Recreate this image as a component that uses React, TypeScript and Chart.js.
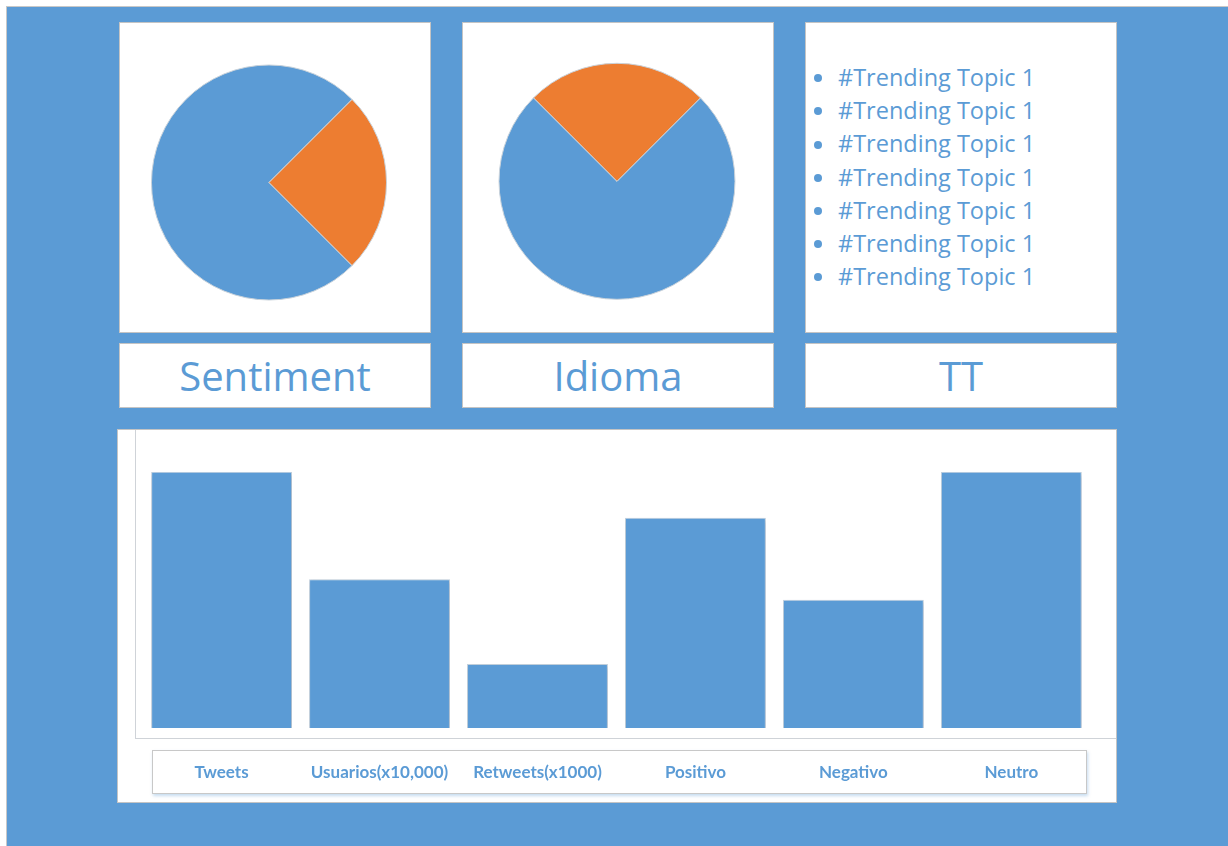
import React, { useEffect, useRef } from "react";
import { Chart, registerables } from "chart.js";

Chart.register(...registerables);

const BLUE = "#5B9BD5";
const ORANGE = "#ED7D31";
const FONT = "Lato, 'Noto Sans', sans-serif";
const TEXT_FONT = "'Open Sans', 'Noto Sans', sans-serif";

// ---- data ----
const sentimentLabels = ["Neutro", "Positivo"];
const sentimentValues = [75, 25];
const idiomaLabels = ["Español", "Inglés"];
const idiomaValues = [75, 25];
const barCategories = ["Tweets", "Usuarios(x10,000)", "Retweets(x1000)", "Positivo", "Negativo", "Neutro"];
const barValues = [100, 58, 25, 82, 50, 100];
const trendingTopics = [
  "#Trending Topic 1",
  "#Trending Topic 1",
  "#Trending Topic 1",
  "#Trending Topic 1",
  "#Trending Topic 1",
  "#Trending Topic 1",
  "#Trending Topic 1",
];
const panelTitles = ["Sentiment", "Idioma", "TT"];

type Pad = { left: number; top: number; right: number; bottom: number };

function PieChart(props: {
  labels: string[];
  values: number[];
  rotation: number;
  padding: Pad;
  left: number;
  top: number;
}) {
  const ref = useRef<HTMLCanvasElement | null>(null);
  useEffect(() => {
    if (!ref.current) return;
    const chart = new Chart(ref.current, {
      type: "pie",
      data: {
        labels: props.labels,
        datasets: [
          {
            data: props.values,
            backgroundColor: [BLUE, ORANGE],
            borderColor: "#c9d2da",
            borderWidth: 1,
          },
        ],
      },
      options: {
        responsive: false,
        animation: false,
        rotation: props.rotation,
        layout: { padding: props.padding },
        plugins: { legend: { display: false }, tooltip: { enabled: false } },
      },
    });
    return () => chart.destroy();
  }, []);
  return (
    <canvas
      ref={ref}
      width={309}
      height={308}
      style={{ position: "absolute", left: props.left, top: props.top, width: 309, height: 308 }}
    />
  );
}

const shadowPlugin = {
  id: "barShadow",
  beforeDatasetsDraw(chart: any) {
    const ctx = chart.ctx;
    ctx.save();
    ctx.shadowColor = "rgba(60,90,130,0.25)";
    ctx.shadowBlur = 4;
    ctx.shadowOffsetX = 1;
    ctx.shadowOffsetY = 2;
  },
  afterDatasetsDraw(chart: any) {
    chart.ctx.restore();
  },
};

function BarChart() {
  const ref = useRef<HTMLCanvasElement | null>(null);
  useEffect(() => {
    if (!ref.current) return;
    const chart = new Chart(ref.current, {
      type: "bar",
      data: {
        labels: barCategories,
        datasets: [
          {
            data: barValues,
            backgroundColor: BLUE,
            borderColor: "#c5d2de",
            borderWidth: 1,
            barPercentage: 0.892,
            categoryPercentage: 1,
          },
        ],
      },
      options: {
        responsive: false,
        animation: false,
        layout: { padding: { left: 25.6, right: 25.7, top: 42.7, bottom: 0 } },
        plugins: { legend: { display: false }, tooltip: { enabled: false } },
        scales: {
          y: { display: false, min: 0, max: 100 },
          x: {
            grid: { display: false, drawTicks: false },
            border: { display: false },
            ticks: {
              color: BLUE,
              padding: 34.3,
              maxRotation: 0,
              autoSkip: false,
              font: { family: FONT, size: 17, weight: "bold", lineHeight: 1.2 },
            },
          },
        },
      },
      plugins: [shadowPlugin],
    });
    return () => chart.destroy();
  }, []);
  return (
    <canvas
      ref={ref}
      width={999}
      height={388}
      style={{ position: "absolute", left: 117, top: 429, width: 999, height: 388 }}
    />
  );
}

const panelStyle = (left: number, top: number, width: number, height: number): React.CSSProperties => ({
  position: "absolute",
  left,
  top,
  width,
  height,
  boxSizing: "border-box",
  background: "#fff",
  border: "1px solid #c4c4c4",
});

export default function App() {
  const cols = [119, 462, 805];
  return (
    <div
      style={{
        position: "absolute",
        left: 0,
        top: 0,
        width: 1228,
        height: 846,
        overflow: "hidden",
        background: "#fff",
        fontFamily: TEXT_FONT,
      }}
    >
      <div
        style={{
          position: "absolute",
          left: 6,
          top: 6,
          width: 1260,
          height: 880,
          background: BLUE,
          border: "1px solid #c8c8c8",
        }}
      />
      {cols.map((x, i) => (
        <div key={"p" + i} style={panelStyle(x, 22, 312, 311)} />
      ))}
      {cols.map((x, i) => (
        <div
          key={"t" + i}
          style={{
            ...panelStyle(x, 343, 312, 65),
            display: "flex",
            alignItems: "center",
            justifyContent: "center",
            color: BLUE,
            fontSize: 40,
            lineHeight: "1",
          }}
        >
          {panelTitles[i]}
        </div>
      ))}
      <PieChart
        labels={sentimentLabels}
        values={sentimentValues}
        rotation={135}
        left={120}
        top={23}
        padding={{ left: 31, top: 41.5, right: 42, bottom: 30.5 }}
      />
      <PieChart
        labels={idiomaLabels}
        values={idiomaValues}
        rotation={45}
        left={463}
        top={23}
        padding={{ left: 35.5, top: 39.8, right: 36.5, bottom: 31.2 }}
      />
      <div style={{ position: "absolute", left: 806, top: 61, width: 300 }}>
        {trendingTopics.map((t, i) => (
          <div
            key={i}
            style={{
              position: "relative",
              height: 33.2,
              lineHeight: "33.2px",
              fontSize: 23.5,
              color: BLUE,
              paddingLeft: 32,
              whiteSpace: "nowrap",
            }}
          >
            <span
              style={{
                position: "absolute",
                left: 8,
                top: 13.3,
                width: 8,
                height: 8,
                borderRadius: "50%",
                background: BLUE,
              }}
            />
            {t}
          </div>
        ))}
      </div>
      <div style={panelStyle(117, 429, 1000, 374)} />
      <div
        style={{
          position: "absolute",
          left: 135,
          top: 430,
          width: 981,
          height: 309,
          boxSizing: "border-box",
          borderLeft: "1px solid #cfd3d8",
          borderBottom: "1px solid #cfd3d8",
        }}
      />
      <div
        style={{
          ...panelStyle(152, 750, 935, 44),
          border: "1px solid #c8c8c8",
          boxShadow: "1px 2px 3px rgba(91,155,213,0.35)",
        }}
      />
      <BarChart />
    </div>
  );
}
